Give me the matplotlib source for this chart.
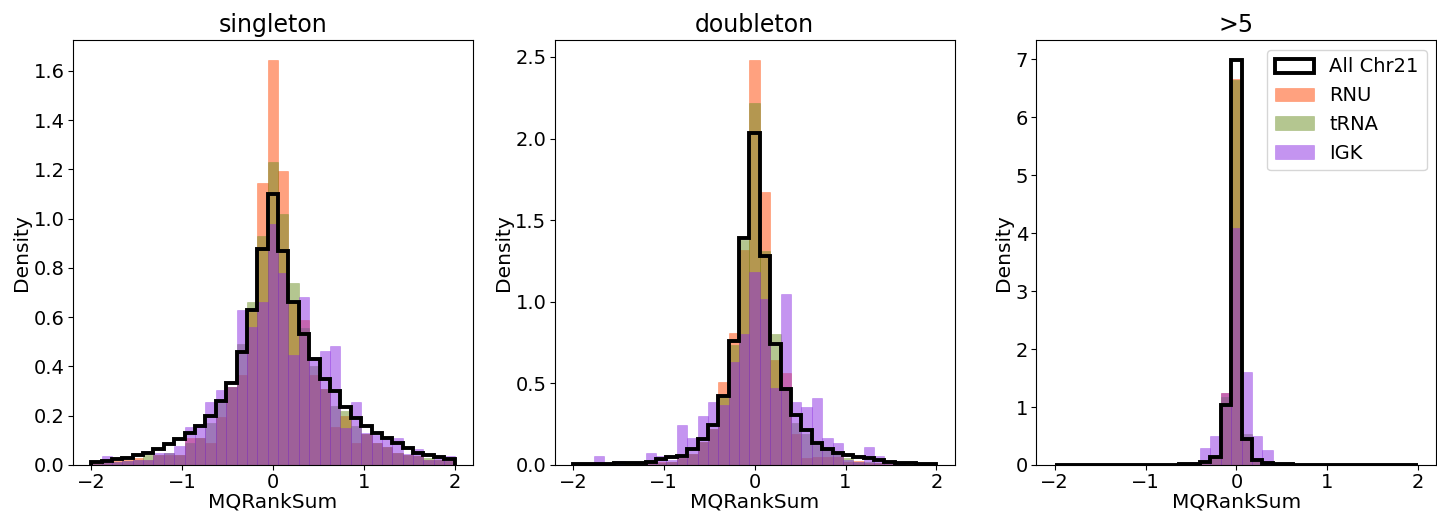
import numpy as np
from matplotlib import pyplot as plt

# 35 bins from -2 to 2, density values
edges = np.linspace(-2, 2, 36)
centers = (edges[:-1] + edges[1:]) / 2

titles = ['singleton', 'doubleton', '>5']
labels = ['All Chr21', 'RNU', 'tRNA', 'IGK']

chr21_single = [0.012, 0.018, 0.024, 0.03, 0.04, 0.05, 0.065, 0.085, 0.105, 0.13,
                0.16, 0.2, 0.26, 0.334, 0.46, 0.63, 0.876, 1.10, 0.87, 0.663,
                0.53, 0.43, 0.35, 0.30, 0.237, 0.19, 0.158, 0.131, 0.108, 0.088,
                0.068, 0.05, 0.04, 0.031, 0.023]
rnu_single = [0.01, 0.01, 0.015, 0.02, 0.028, 0.02, 0.04, 0.04, 0.04, 0.11,
              0.108, 0.088, 0.195, 0.318, 0.365, 0.62, 1.145, 1.643, 1.194, 0.656,
              0.59, 0.365, 0.31, 0.155, 0.20, 0.088, 0.125, 0.088, 0.075, 0.047,
              0.04, 0.037, 0.02, 0.02, 0.015]
trna_single = [0.008, 0.01, 0.012, 0.015, 0.02, 0.04, 0.04, 0.05, 0.04, 0.09,
               0.108, 0.17, 0.25, 0.318, 0.49, 0.66, 0.93, 1.23, 1.018, 0.737,
               0.555, 0.40, 0.31, 0.24, 0.22, 0.16, 0.125, 0.088, 0.075, 0.047,
               0.04, 0.037, 0.03, 0.02, 0.015]
igk_single = [0.005, 0.037, 0.012, 0.015, 0.02, 0.02, 0.047, 0.047, 0.077, 0.155,
              0.165, 0.257, 0.304, 0.318, 0.63, 0.56, 0.66, 0.978, 0.778, 0.446,
              0.68, 0.44, 0.464, 0.483, 0.149, 0.257, 0.128, 0.12, 0.105, 0.108,
              0.045, 0.064, 0.02, 0.034, 0.037]

chr21_double = [0.004, 0.004, 0.005, 0.008, 0.01, 0.01, 0.015, 0.02, 0.035, 0.047,
                0.055, 0.096, 0.157, 0.245, 0.423, 0.76, 1.39, 2.034, 1.28, 0.742,
                0.464, 0.307, 0.215, 0.133, 0.096, 0.075, 0.061, 0.047, 0.04, 0.03,
                0.02, 0.015, 0.01, 0.008, 0.005]
rnu_double = [0, 0, 0, 0, 0, 0.005, 0.005, 0.01, 0.02, 0.02,
              0.04, 0.07, 0.14, 0.22, 0.51, 0.807, 1.32, 2.48, 1.67, 0.644,
              0.566, 0.19, 0.04, 0.05, 0.05, 0.047, 0.02, 0.027, 0.015, 0.01,
              0.005, 0.005, 0, 0, 0]
trna_double = [0, 0, 0, 0.008, 0, 0.005, 0.005, 0.01, 0.015, 0.02,
               0.04, 0.07, 0.14, 0.22, 0.42, 0.735, 1.376, 2.22, 1.31, 0.80,
               0.46, 0.26, 0.19, 0.12, 0.09, 0.07, 0.04, 0.02, 0.02, 0.01,
               0.01, 0.005, 0.005, 0, 0]
igk_double = [0, 0, 0.055, 0, 0.027, 0, 0.005, 0.075, 0.055, 0.03,
              0.245, 0.163, 0.30, 0.388, 0.37, 0.634, 0.80, 1.18, 1.02, 0.47,
              1.047, 0.388, 0.358, 0.409, 0.163, 0.133, 0.03, 0.02, 0.108, 0.055,
              0.02, 0.02, 0, 0, 0]

chr21_many = [0.003, 0.003, 0.003, 0.003, 0.003, 0.003, 0.003, 0.003, 0.004, 0.005,
              0.006, 0.008, 0.012, 0.02, 0.057, 0.144, 1.035, 6.98, 0.45, 0.086,
              0.04, 0.02, 0.01, 0.006, 0.005, 0.004, 0.003, 0.003, 0.003, 0.003,
              0.003, 0.003, 0.003, 0.003, 0.003]
rnu_many = [0, 0, 0, 0, 0, 0, 0, 0, 0, 0,
            0, 0, 0, 0.01, 0.05, 0.13, 1.235, 6.66, 0.45, 0.08,
            0.03, 0.01, 0, 0, 0, 0, 0, 0, 0, 0,
            0, 0, 0, 0, 0]
trna_many = [0, 0, 0, 0, 0, 0, 0, 0, 0, 0,
             0, 0, 0, 0.01, 0.05, 0.13, 1.17, 6.64, 0.53, 0.08,
             0.03, 0.01, 0, 0, 0, 0, 0, 0, 0, 0,
             0, 0, 0, 0, 0]
igk_many = [0, 0, 0, 0, 0, 0, 0, 0, 0, 0,
            0, 0, 0.02, 0.057, 0.30, 0.50, 1.24, 4.08, 1.61, 0.50,
            0.26, 0.04, 0.01, 0, 0.01, 0, 0, 0, 0, 0,
            0, 0, 0, 0, 0]

panels = [
    (chr21_single, rnu_single, trna_single, igk_single),
    (chr21_double, rnu_double, trna_double, igk_double),
    (chr21_many, rnu_many, trna_many, igk_many),
]
fill_colors = ['orangered', 'olivedrab', 'blueviolet']

plt.rcParams['font.family'] = ['DejaVu Sans']
fig, axes = plt.subplots(1, 3, figsize=(14.37, 5.13), dpi=100)
fig.subplots_adjust(left=73 / 1437, right=0.9995, bottom=48 / 513, top=473 / 513,
                    wspace=0.205)

for ax, title, series in zip(axes, titles, panels):
    ax.hist(centers, bins=edges, weights=series[0], histtype='step',
            color='black', linewidth=2.8, label=labels[0])
    for values, color, label in zip(series[1:], fill_colors, labels[1:]):
        ax.hist(centers, bins=edges, weights=values, color=color, alpha=0.5,
                edgecolor=color, linewidth=0.4, label=label)
    ax.set_title(title, fontsize=17)
    ax.set_xlabel('MQRankSum', fontsize=14.5, labelpad=0)
    ax.set_ylabel('Density', fontsize=14.5, labelpad=2)
    ax.tick_params(labelsize=14, pad=2.5)

axes[2].legend(loc='upper right', fontsize=14)

fig.savefig('out.png', dpi=100)
